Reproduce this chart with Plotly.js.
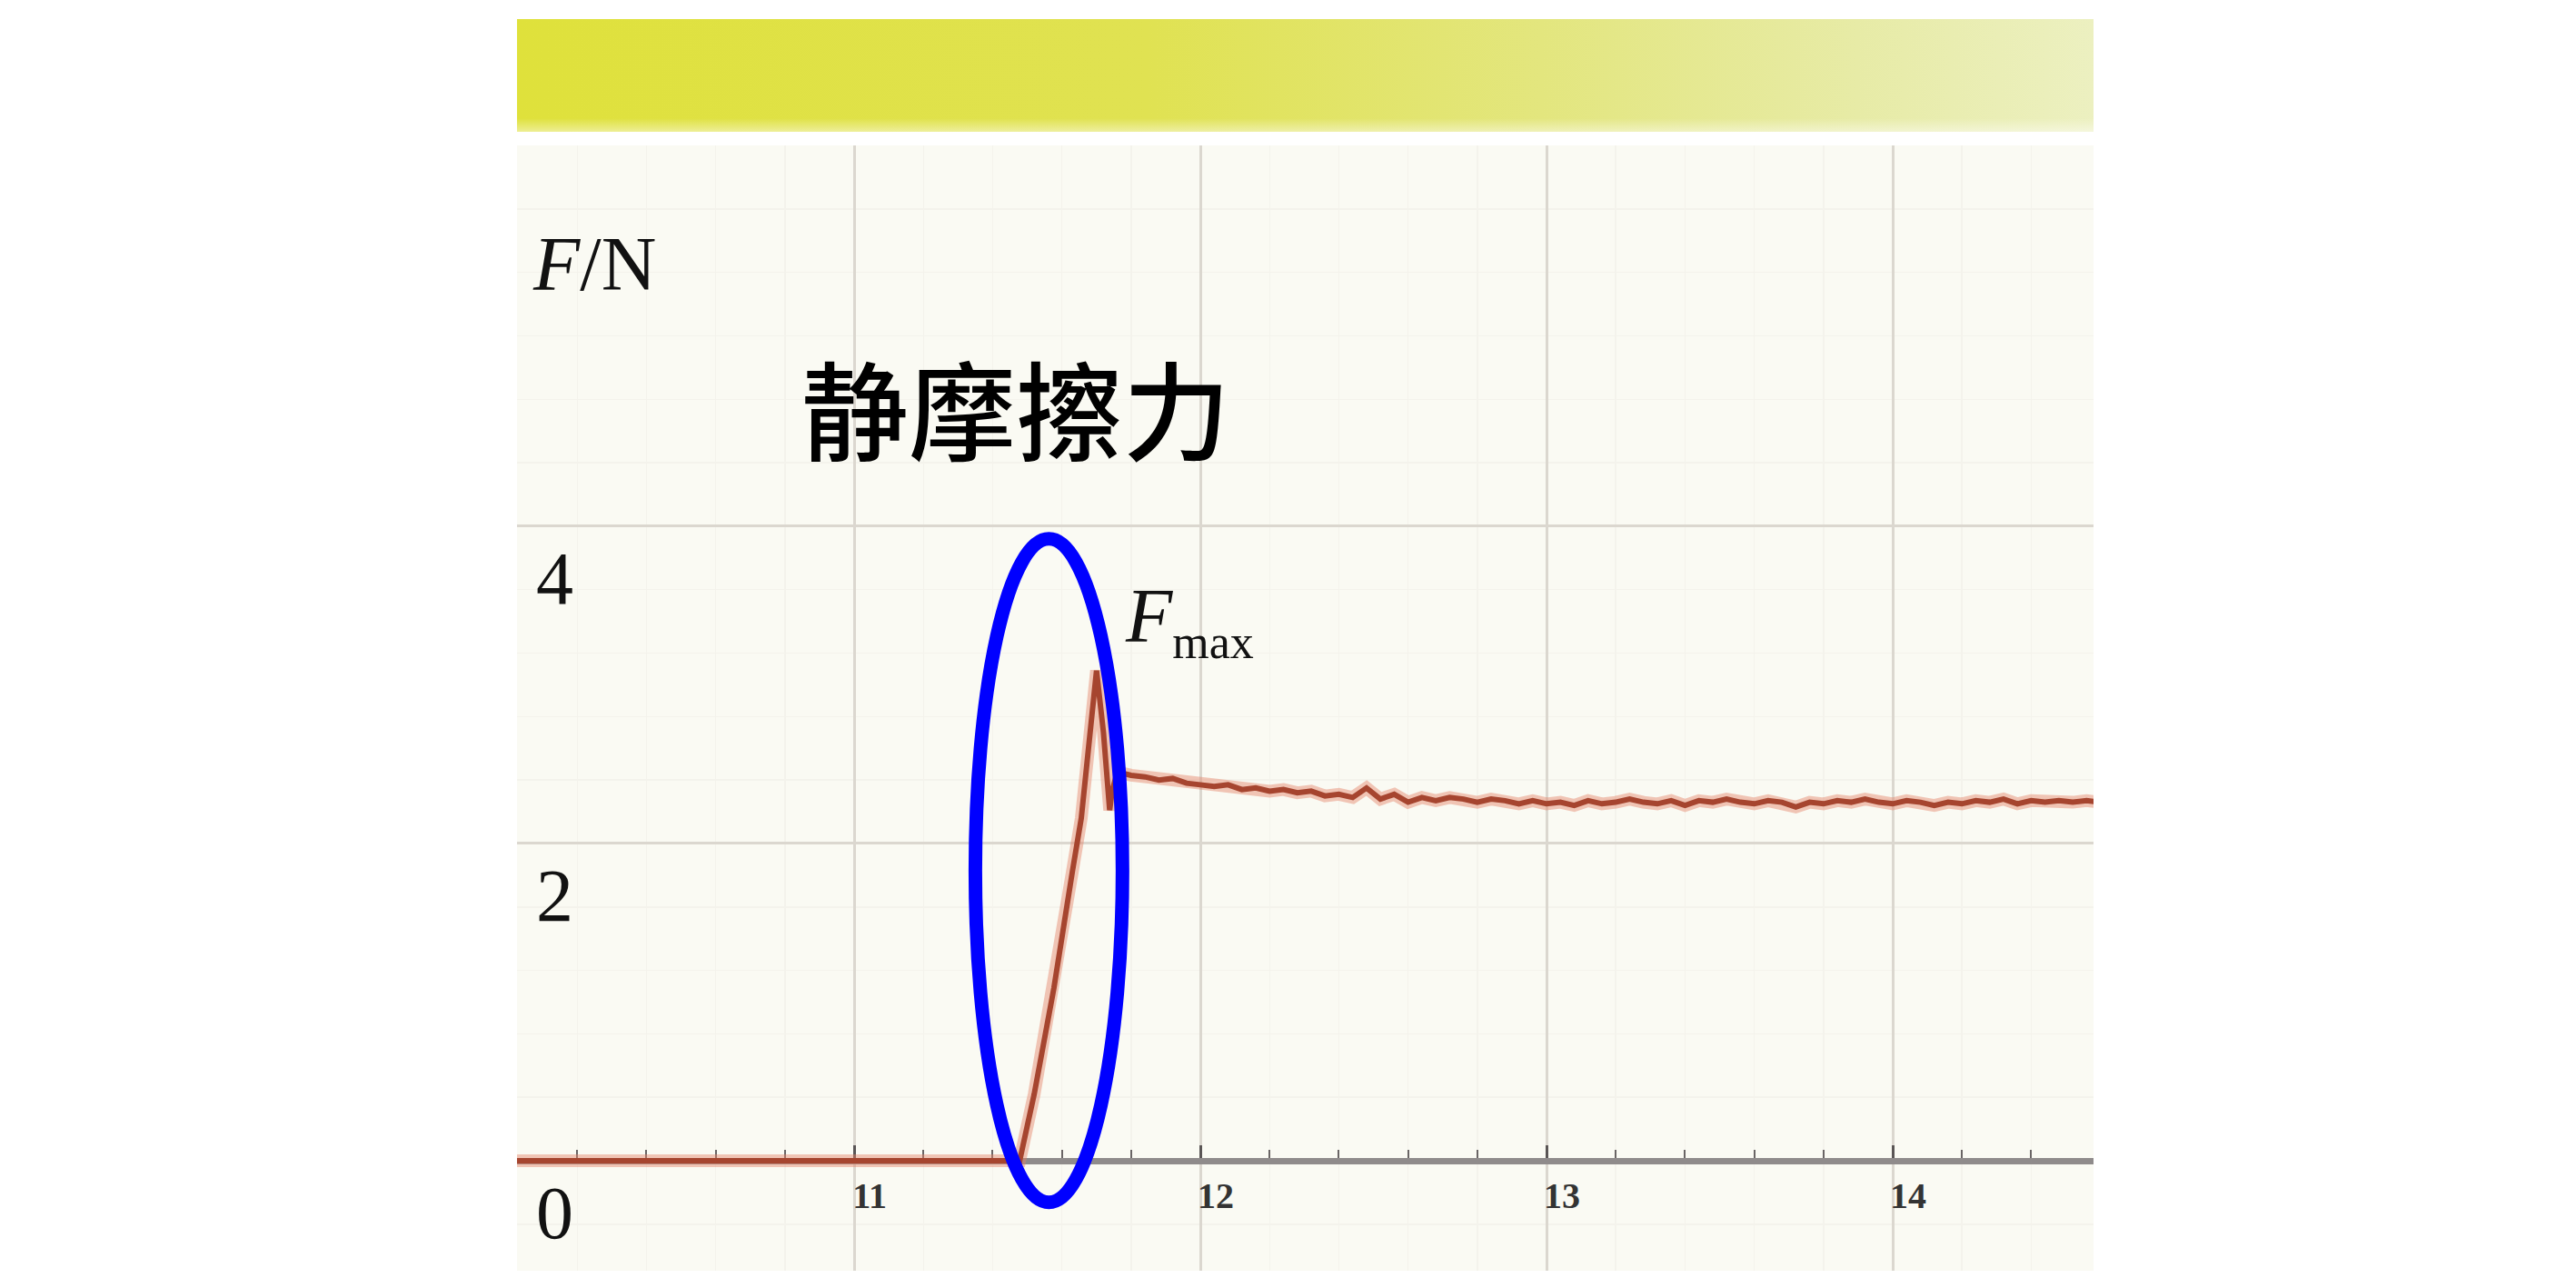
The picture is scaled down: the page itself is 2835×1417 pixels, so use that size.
<!DOCTYPE html>
<html>
<head>
<meta charset="utf-8">
<script src="https://cdn.plot.ly/plotly-3.0.1.min.js"></script>
<style>
html,body{margin:0;padding:0;background:#ffffff;}
#chart{width:2835px;height:1417px;}
</style>
</head>
<body>
<div id="chart"></div>
<script>
// ---- data (time in s, force in N) ----
var timeS = [
  10.00, 11.478, 11.52, 11.577, 11.63, 11.656, 11.70, 11.72, 11.738, 11.745, 11.76,
  11.80, 11.84, 11.88, 11.92, 11.96, 12.00, 12.04, 12.08, 12.12, 12.16, 12.20,
  12.24, 12.28, 12.32, 12.36, 12.40, 12.44, 12.48, 12.52, 12.56, 12.60, 12.64,
  12.68, 12.72, 12.76, 12.80, 12.84, 12.88, 12.92, 12.96, 13.00, 13.04, 13.08,
  13.12, 13.16, 13.20, 13.24, 13.28, 13.32, 13.36, 13.40, 13.44, 13.48, 13.52,
  13.56, 13.60, 13.64, 13.68, 13.72, 13.76, 13.80, 13.84, 13.88, 13.92, 13.96,
  14.00, 14.04, 14.08, 14.12, 14.16, 14.20, 14.24, 14.28, 14.32, 14.36, 14.40,
  14.44, 14.48, 14.52, 14.56, 14.60
];
var forceN = [
  0.00, 0.00, 0.42, 1.09, 1.82, 2.16, 3.09, 2.70, 2.21, 2.33, 2.45,
  2.43, 2.42, 2.40, 2.41, 2.38, 2.37, 2.36, 2.37, 2.34, 2.35, 2.33,
  2.34, 2.32, 2.33, 2.30, 2.31, 2.29, 2.35, 2.28, 2.31, 2.26, 2.29,
  2.27, 2.29, 2.28, 2.26, 2.28, 2.27, 2.25, 2.27, 2.25, 2.26, 2.24,
  2.27, 2.25, 2.26, 2.28, 2.26, 2.25, 2.27, 2.24, 2.27, 2.26, 2.28,
  2.26, 2.25, 2.27, 2.26, 2.23, 2.26, 2.25, 2.27, 2.26, 2.28, 2.26,
  2.25, 2.27, 2.26, 2.24, 2.26, 2.25, 2.27, 2.26, 2.28, 2.25, 2.27,
  2.26, 2.27, 2.26, 2.27, 2.26
];
var xTickVals = [11, 12, 13, 14];
var xTickText = ['11', '12', '13', '14'];
var yTickVals = [0, 2, 4];
var yTickText = ['0', '2', '4'];
var labelAxisY = '<i>F</i>/N';
var labelTitle = '静摩擦力';
var labelPeak = '<i>F</i><sub><span style="font-size:52px">max</span></sub>';

// ---- geometry ----
var W = 2835, H = 1417;
var plotL = 569, plotR = 2304, plotT = 160, plotB = 1398;
var xRange = [10.026, 14.58];
var yRange = [-0.693, 6.40];
var axisPos = (0 - yRange[0]) / (yRange[1] - yRange[0]);
var plotH = plotB - plotT, plotW = plotR - plotL;
function px2paperY(p){ return (plotB - p) / plotH; }
function px2paperX(p){ return (p - plotL) / plotW; }

// gradient band (decoration) as svg image
var bandSvg = "<svg xmlns='http://www.w3.org/2000/svg' viewBox='0 0 1000 100' width='1000' height='100' preserveAspectRatio='none'>" +
  "<defs><linearGradient id='g' x1='0' y1='0' x2='1' y2='0'>" +
  "<stop offset='0' stop-color='#dfe13b'/>" +
  "<stop offset='0.4' stop-color='#e0e252'/>" +
  "<stop offset='0.65' stop-color='#e3e67e'/>" +
  "<stop offset='0.85' stop-color='#e7eba6'/>" +
  "<stop offset='1' stop-color='#ecf0c0'/>" +
  "</linearGradient>" +
  "<linearGradient id='v' x1='0' y1='0' x2='0' y2='1'>" +
  "<stop offset='0' stop-color='#ffffff' stop-opacity='0'/>" +
  "<stop offset='0.88' stop-color='#ffffff' stop-opacity='0'/>" +
  "<stop offset='1' stop-color='#ffffff' stop-opacity='0.45'/>" +
  "</linearGradient></defs>" +
  "<rect x='0' y='0' width='1000' height='100' fill='url(#g)'/>" +
  "<rect x='0' y='0' width='1000' height='100' fill='url(#v)'/>" +
  "</svg>";
var bandSrc = 'data:image/svg+xml;charset=utf-8,' + encodeURIComponent(bandSvg);

var traces = [
  {
    x: timeS, y: forceN, type: 'scatter', mode: 'lines',
    line: {color: 'rgba(228,130,105,0.45)', width: 14, shape: 'linear'},
    hoverinfo: 'skip', showlegend: false, cliponaxis: true
  },
  {
    x: timeS, y: forceN, type: 'scatter', mode: 'lines',
    line: {color: '#a6452f', width: 6, shape: 'linear'},
    hoverinfo: 'skip', showlegend: false, cliponaxis: true
  }
];

var serif = 'Liberation Serif, Times New Roman, serif';

var layout = {
  width: W, height: H,
  margin: {l: plotL, r: W - plotR, t: plotT, b: H - plotB, pad: 0},
  paper_bgcolor: '#ffffff',
  plot_bgcolor: '#fafaf3',
  showlegend: false,
  hovermode: false,
  xaxis: {
    range: xRange, anchor: 'free', position: axisPos, side: 'bottom',
    tickmode: 'array', tickvals: xTickVals, ticktext: xTickText,
    showline: true, linecolor: '#8f8b8b', linewidth: 7,
    ticks: 'inside', ticklen: 14, tickwidth: 3, tickcolor: '#5a5555',
    showgrid: true, gridcolor: '#dbd7cf', gridwidth: 3,
    minor: {tickmode: 'linear', tick0: 10, dtick: 0.2, ticks: 'inside', ticklen: 9, tickwidth: 2,
            tickcolor: '#6a6565', showgrid: true, gridcolor: '#f4f3ec', gridwidth: 1.5},
    tickfont: {family: serif, size: 40, color: '#333333', weight: 'bold'},
    ticklabelshift: 17, ticklabelstandoff: 0,
    zeroline: false, layer: 'below traces', fixedrange: true
  },
  yaxis: {
    range: yRange, tickmode: 'array', tickvals: yTickVals, ticktext: yTickText,
    showline: false, ticks: '', showgrid: true, gridcolor: '#dbd7cf', gridwidth: 3,
    minor: {tickmode: 'linear', tick0: 0, dtick: 0.4, showgrid: true, gridcolor: '#f4f3ec', gridwidth: 1.5},
    ticklabelposition: 'inside', ticklabelshift: 56, ticklabelstandoff: 18,
    tickfont: {family: serif, size: 82, color: '#111111'},
    zeroline: false, layer: 'below traces', fixedrange: true
  },
  yaxis2: {
    range: yRange, overlaying: 'y', side: 'left', tickmode: 'linear', tick0: 0, dtick: 2,
    showticklabels: false, ticks: '', showline: false,
    showgrid: true, gridcolor: '#dbd7cf', gridwidth: 3,
    zeroline: false, layer: 'below traces', fixedrange: true
  },
  images: [{
    source: bandSrc, xref: 'paper', yref: 'paper',
    x: px2paperX(plotL), y: px2paperY(21), sizex: 1, sizey: (145 - 21) / plotH,
    xanchor: 'left', yanchor: 'top', sizing: 'stretch', layer: 'above'
  }],
  shapes: [{
    type: 'circle', xref: 'x', yref: 'y',
    x0: 11.35, x1: 11.775, y0: -0.262, y1: 3.92,
    line: {color: '#0000ff', width: 15}, fillcolor: 'rgba(0,0,0,0)', layer: 'above'
  }],
  annotations: [
    {text: labelAxisY, xref: 'paper', yref: 'paper', x: px2paperX(584), y: px2paperY(291),
     xanchor: 'left', yanchor: 'middle', showarrow: false,
     font: {family: serif, size: 84, color: '#111111'}},
    {text: labelTitle, xref: 'paper', yref: 'paper', x: px2paperX(1118), y: px2paperY(447),
     xanchor: 'center', yanchor: 'middle', showarrow: false,
     font: {family: 'Noto Sans CJK SC, sans-serif', size: 118, color: '#000000', weight: 500}},
    {text: labelPeak, xref: 'paper', yref: 'paper', x: px2paperX(1236), y: px2paperY(683),
     xanchor: 'left', yanchor: 'middle', showarrow: false,
     font: {family: serif, size: 84, color: '#111111'}}
  ]
};

Plotly.newPlot('chart', traces, layout, {staticPlot: true, displayModeBar: false});
</script>
</body>
</html>
